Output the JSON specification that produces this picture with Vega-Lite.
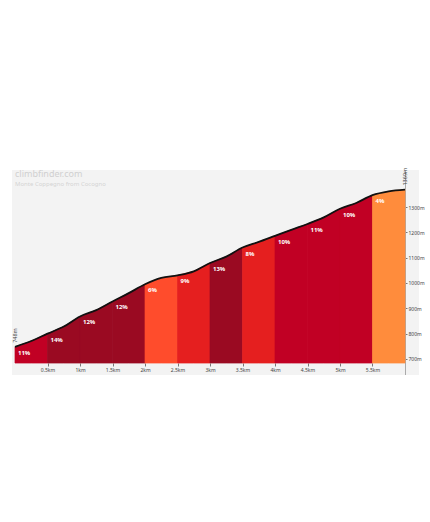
{
  "$schema": "https://vega.github.io/schema/vega-lite/v6.json",
  "width": 407,
  "height": 205,
  "autosize": {"type": "none"},
  "padding": {"left": 12, "top": 170, "right": 11, "bottom": 0},
  "background": "white",
  "config": {
    "view": {"stroke": null, "fill": "#f3f3f3"},
    "font": "Noto Sans",
    "axis": {"labelOverlap": false}
  },
  "title": {
    "text": "climbfinder.com",
    "subtitle": "Monte Coppegno from Cocogno",
    "anchor": "start",
    "frame": "group",
    "offset": -19,
    "dx": 3,
    "fontSize": 9,
    "fontWeight": "normal",
    "color": "#d0d0d0",
    "subtitleFontSize": 6,
    "subtitleColor": "#d3d3d3",
    "subtitlePadding": 2
  },
  "datasets": {
    "area": [
      {"seg": 1, "km": 0, "ele": 748}, {"seg": 1, "km": 0.25, "ele": 771}, {"seg": 1, "km": 0.5, "ele": 800},
      {"seg": 2, "km": 0.5, "ele": 800}, {"seg": 2, "km": 0.75, "ele": 828}, {"seg": 2, "km": 1.0, "ele": 868},
      {"seg": 3, "km": 1.0, "ele": 868}, {"seg": 3, "km": 1.25, "ele": 893}, {"seg": 3, "km": 1.5, "ele": 927},
      {"seg": 4, "km": 1.5, "ele": 927}, {"seg": 4, "km": 1.75, "ele": 960}, {"seg": 4, "km": 2.0, "ele": 995},
      {"seg": 5, "km": 2.0, "ele": 995}, {"seg": 5, "km": 2.25, "ele": 1020}, {"seg": 5, "km": 2.5, "ele": 1030},
      {"seg": 6, "km": 2.5, "ele": 1030}, {"seg": 6, "km": 2.75, "ele": 1046}, {"seg": 6, "km": 3.0, "ele": 1079},
      {"seg": 7, "km": 3.0, "ele": 1079}, {"seg": 7, "km": 3.25, "ele": 1104}, {"seg": 7, "km": 3.5, "ele": 1140},
      {"seg": 8, "km": 3.5, "ele": 1140}, {"seg": 8, "km": 3.75, "ele": 1162}, {"seg": 8, "km": 4.0, "ele": 1186},
      {"seg": 9, "km": 4.0, "ele": 1186}, {"seg": 9, "km": 4.25, "ele": 1210}, {"seg": 9, "km": 4.5, "ele": 1233},
      {"seg": 10, "km": 4.5, "ele": 1233}, {"seg": 10, "km": 4.75, "ele": 1259}, {"seg": 10, "km": 5.0, "ele": 1293},
      {"seg": 11, "km": 5.0, "ele": 1293}, {"seg": 11, "km": 5.25, "ele": 1316}, {"seg": 11, "km": 5.5, "ele": 1347},
      {"seg": 12, "km": 5.5, "ele": 1347}, {"seg": 12, "km": 5.75, "ele": 1362}, {"seg": 12, "km": 6.0, "ele": 1369}
    ],
    "segs": [
      {"km": 0, "ele": 748, "pct": "11%"},
      {"km": 0.5, "ele": 800, "pct": "14%"},
      {"km": 1.0, "ele": 868, "pct": "12%"},
      {"km": 1.5, "ele": 927, "pct": "12%"},
      {"km": 2.0, "ele": 995, "pct": "6%"},
      {"km": 2.5, "ele": 1030, "pct": "9%"},
      {"km": 3.0, "ele": 1079, "pct": "13%"},
      {"km": 3.5, "ele": 1140, "pct": "8%"},
      {"km": 4.0, "ele": 1186, "pct": "10%"},
      {"km": 4.5, "ele": 1233, "pct": "11%"},
      {"km": 5.0, "ele": 1293, "pct": "10%"},
      {"km": 5.5, "ele": 1347, "pct": "4%"}
    ],
    "ends": [
      {"km": 0, "ele": 748, "label": "748m"},
      {"km": 6.0, "ele": 1369, "label": "1369m"}
    ]
  },
  "encoding": {
    "x": {
      "field": "km", "type": "quantitative",
      "scale": {"domain": [-0.0462, 6.2154], "nice": false, "zero": false},
      "axis": {
        "orient": "bottom", "offset": -12, "title": null, "grid": false, "domain": false,
        "values": [0.5, 1, 1.5, 2, 2.5, 3, 3.5, 4, 4.5, 5, 5.5],
        "labelExpr": "datum.value + 'km'", "labelOverlap": false,
        "tickSize": 3, "tickColor": "#777", "labelFontSize": 5, "labelColor": "#444", "labelPadding": 1
      }
    },
    "y": {
      "field": "ele", "type": "quantitative",
      "scale": {"domain": [636.8, 1446.1], "nice": false, "zero": false},
      "axis": {
        "orient": "right", "offset": -14, "title": null, "grid": false,
        "values": [700, 800, 900, 1000, 1100, 1200, 1300],
        "labelExpr": "datum.value + 'm'", "labelOverlap": false,
        "domainColor": "#aaa", "tickSize": 2, "tickColor": "#777",
        "labelFontSize": 5, "labelColor": "#444", "labelPadding": 1
      }
    }
  },
  "layer": [
    {
      "data": {"name": "area"},
      "mark": {"type": "area", "interpolate": "linear", "strokeWidth": 0.7},
      "encoding": {
        "y2": {"datum": 684},
        "color": {
          "field": "seg", "type": "nominal", "legend": null,
          "scale": {
            "domain": [1, 2, 3, 4, 5, 6, 7, 8, 9, 10, 11, 12],
            "range": ["#c10024", "#9a0a22", "#9a0a22", "#9a0a22", "#ff4c2c", "#e51f1f", "#9a0a22", "#e51f1f", "#c10024", "#c10024", "#c10024", "#ff8c3c"]
          }
        },
        "stroke": {
          "field": "seg", "type": "nominal", "legend": null,
          "scale": {
            "domain": [1, 2, 3, 4, 5, 6, 7, 8, 9, 10, 11, 12],
            "range": ["#c10024", "#9a0a22", "#9a0a22", "#9a0a22", "#ff4c2c", "#e51f1f", "#9a0a22", "#e51f1f", "#c10024", "#c10024", "#c10024", "#ff8c3c"]
          }
        }
      }
    },
    {
      "data": {"name": "area"},
      "mark": {"type": "line", "color": "#111", "strokeWidth": 1.8, "interpolate": "monotone"},
      "encoding": {}
    },
    {
      "data": {"name": "segs"},
      "mark": {"type": "text", "align": "left", "baseline": "top", "dx": 3, "dy": 3, "fontSize": 6, "fontWeight": "bold", "color": "white"},
      "encoding": {
        "text": {"field": "pct"}
      }
    },
    {
      "data": {"name": "ends"},
      "mark": {"type": "text", "angle": 270, "align": "left", "baseline": "middle", "dx": 4, "fontSize": 5.5, "color": "#444"},
      "encoding": {
        "text": {"field": "label"}
      }
    }
  ]
}
